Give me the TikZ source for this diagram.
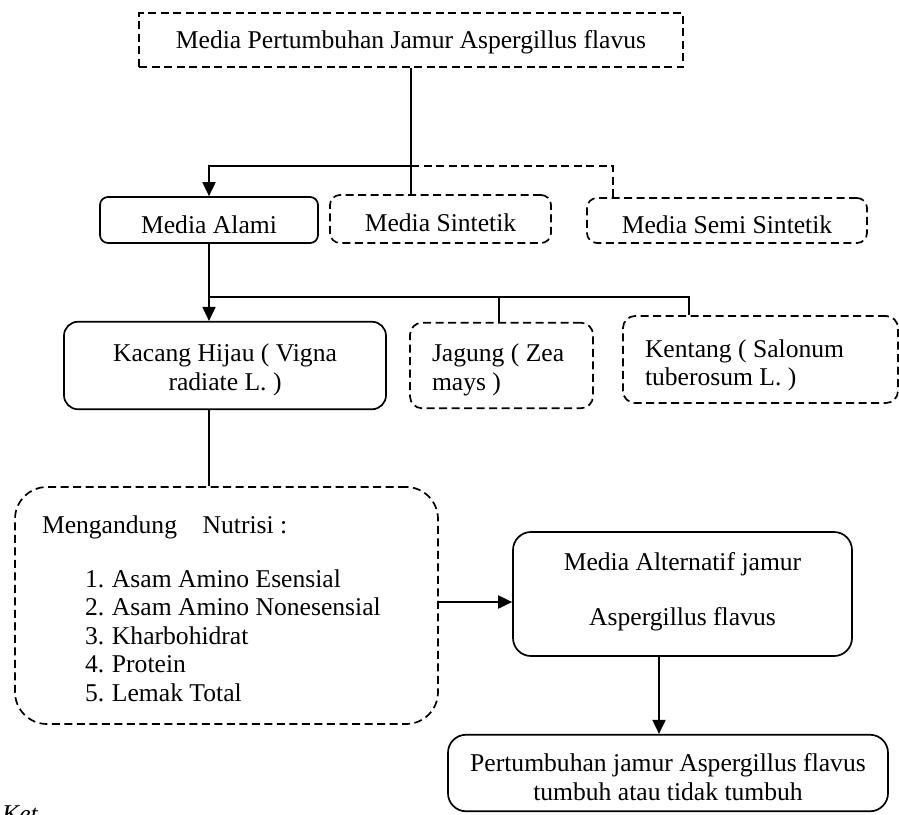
\documentclass[tikz,border=0pt]{standalone}
\usepackage{fontspec}
\setmainfont{Liberation Serif}
\usetikzlibrary{arrows.meta}
\newcommand\tb[3]{\spaceskip=0pt\xspaceskip=0pt\rule{0pt}{#1pt}#3\rule[-#2pt]{0pt}{#2pt}}
\newcommand\itm[1]{\hspace*{43pt}\makebox[27pt][l]{#1}}
\begin{document}
\begin{tikzpicture}[x=1pt,y=-1pt,
  every node/.style={font=\fontsize{25.6pt}{28.5pt}\selectfont, inner ysep=0pt, inner xsep=0pt},
  solidbox/.style={draw, rounded corners=#1, line width=1.7pt},
  solidbox/.default=10pt,
  dashbox/.style={draw, rounded corners=#1, line width=1.7pt, dash pattern=on 8pt off 4.5pt},
  dashbox/.default=10pt,
  conn/.style={line width=1.9pt},
  dconn/.style={line width=1.9pt, dash pattern=on 8pt off 4.5pt},
  arr/.style={line width=1.9pt, -{Triangle[width=13pt,length=14pt]}}]
\useasboundingbox (0,0) rectangle (899,814);

% boxes
\node[dashbox=0pt, minimum width=544pt, minimum height=54pt, align=center] (top) at (411,40)
  {\tb{35}{19}{Media Pertumbuhan Jamur Aspergillus flavus}};
\node[solidbox=8pt, minimum width=218pt, minimum height=46pt, align=center] (alami) at (209,220)
  {\tb{36}{10}{Media Alami}};
\node[dashbox=10pt, minimum width=221pt, minimum height=48pt, align=center] (sint) at (440.5,219)
  {\tb{36}{12}{Media Sintetik}};
\node[dashbox=10pt, minimum width=280pt, minimum height=45pt, align=center] (semi) at (727,220.5)
  {\tb{35}{10}{Media Semi Sintetik}};
\node[solidbox=14pt, minimum width=322pt, minimum height=87pt, align=center] (kac) at (225,365.5)
  {\tb{40}{19}{Kacang Hijau ( Vigna\\radiate L. )}};
\node[dashbox=12pt, minimum width=183pt, minimum height=85pt, text width=139pt, inner xsep=22pt, align=left] (jag) at (501.5,365.5)
  {\tb{39}{18}{Jagung ( Zea\\mays )}};
\node[dashbox=12pt, minimum width=275pt, minimum height=87pt, text width=231pt, inner xsep=22pt, align=left] (ken) at (760.5,359.5)
  {\tb{41}{17.5}{Kentang ( Salonum\\tuberosum L. )}};
\node[dashbox=32pt, minimum width=423pt, minimum height=237pt, text width=369pt, inner xsep=27pt, align=left] (nut) at (226.5,605.5)
  {\tb{46}{23}{Mengandung\ \ \ \ Nutrisi :\\[25.5pt]\itm{1.}Asam Amino Esensial\\\itm{2.}Asam Amino Nonesensial\\\itm{3.}Kharbohidrat\\\itm{4.}Protein\\\itm{5.}Lemak Total}};
\node[solidbox=18pt, minimum width=339pt, minimum height=124pt, align=center] (alt) at (682.5,594)
  {\tb{38}{31}{Media Alternatif jamur\\[26.5pt]Aspergillus flavus}};
\node[solidbox=18pt, minimum width=440pt, minimum height=76pt, align=center] (per) at (668,773)
  {\tb{37}{11}{Pertumbuhan jamur Aspergillus flavus\\tumbuh atau tidak tumbuh}};
\node[font=\fontsize{25.6pt}{28.5pt}\selectfont\itshape, anchor=base west] (ket) at (2,822) {Ket};

% junction coordinates
\coordinate (j1) at (411,166);
\coordinate (s1) at (613,166);
\coordinate (j2) at (209,297);
\coordinate (jg) at (499,297);
\coordinate (kt) at (689,297);
\coordinate (n1) at (438,602);
\coordinate (a1) at (659,656);

% connectors
\draw[conn] (top.south) -- (top.south |- sint.north);
\draw[arr] (j1) -| (alami.north);
\draw[dconn] (j1) -- (s1) -- (s1 |- semi.north);
\draw[arr] (alami.south) -- (alami.south |- kac.north);
\draw[conn] (j2) -- (kt) -- (kt |- ken.north);
\draw[conn] (jg) -- (jg |- jag.north);
\draw[conn] (alami.south |- kac.south) -- (alami.south |- nut.north);
\draw[arr] (nut.east |- n1) -- (alt.west |- n1);
\draw[arr] (alt.south -| a1) -- (per.north -| a1);
\end{tikzpicture}
\end{document}
